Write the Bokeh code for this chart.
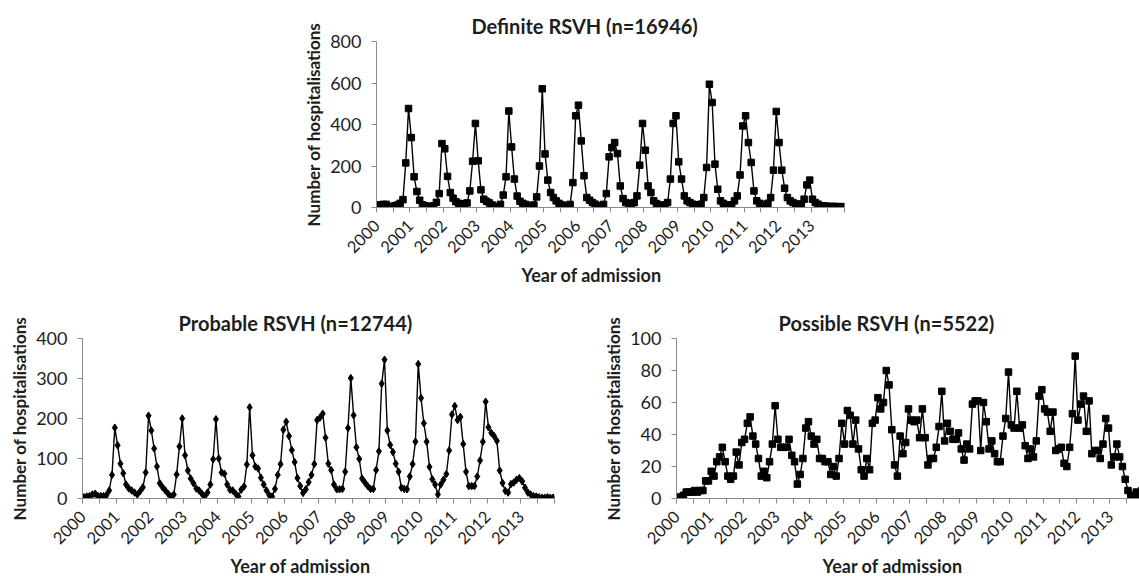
from bokeh.plotting import figure
from bokeh.layouts import column, row
from bokeh.models import Spacer, FixedTicker, Range1d, Title
from bokeh.embed import file_html
from bokeh.resources import INLINE

# ---------------- data ----------------
years = list(range(2000, 2014))
year_labels = [str(y) for y in years]

definite = [
    12, 12, 15, 15, 5, 3, 8, 12, 20, 38, 215, 477,        # 2000
    337, 148, 77, 35, 13, 8, 5, 5, 8, 25, 67, 308,         # 2001
    283, 150, 72, 45, 28, 20, 18, 18, 22, 80, 223, 405,    # 2002
    225, 85, 40, 30, 22, 12, 5, 3, 15, 60, 148, 465,       # 2003
    292, 137, 55, 30, 20, 15, 10, 8, 12, 51, 200, 572,     # 2004
    258, 132, 72, 48, 32, 20, 12, 8, 10, 15, 120, 442,     # 2005
    493, 321, 153, 48, 35, 24, 16, 8, 8, 15, 67, 244,      # 2006
    289, 313, 260, 104, 43, 24, 19, 19, 24, 56, 204, 405,  # 2007
    276, 104, 72, 32, 19, 12, 8, 12, 24, 137, 405, 442,    # 2008
    220, 137, 56, 32, 24, 16, 12, 12, 16, 48, 193, 594,    # 2009
    506, 209, 88, 32, 20, 12, 12, 12, 32, 56, 157, 393,    # 2010
    442, 313, 217, 80, 32, 20, 14, 14, 20, 48, 180, 463,   # 2011
    313, 180, 93, 48, 32, 24, 16, 16, 16, 40, 109, 132,    # 2012
    40, 24, 16, 8, 8, 6, 5, 5, 5, 4, 4, 4,                 # 2013
]

probable = [
    3, 5, 6, 10, 12, 6, 6, 6, 8, 20, 59, 177,              # 2000
    133, 87, 63, 35, 25, 20, 15, 10, 18, 28, 65, 207,      # 2001
    170, 125, 80, 38, 28, 20, 12, 5, 10, 60, 130, 200,     # 2002
    108, 70, 50, 38, 25, 20, 12, 5, 15, 35, 98, 198,       # 2003
    100, 65, 62, 35, 22, 20, 12, 5, 22, 30, 85, 228,       # 2004
    108, 80, 75, 52, 35, 20, 8, 5, 24, 59, 86, 172,        # 2005
    192, 156, 121, 91, 51, 31, 14, 23, 41, 59, 86, 196,    # 2006
    202, 212, 152, 87, 71, 35, 23, 23, 24, 67, 176, 301,   # 2007
    208, 128, 99, 50, 40, 31, 24, 24, 71, 118, 287, 347,   # 2008
    170, 134, 116, 87, 67, 27, 24, 23, 55, 86, 142, 336,   # 2009
    251, 188, 142, 79, 48, 35, 10, 35, 47, 61, 120, 210,   # 2010
    231, 196, 204, 136, 67, 31, 31, 31, 55, 95, 142, 242,  # 2011
    178, 164, 156, 144, 70, 39, 19, 15, 36, 40, 47, 51,    # 2012
    43, 27, 15, 10, 6, 5, 3, 2, 2, 3, 2, 2,                # 2013
]

possible = [
    0, 1, 2, 4, 4, 4, 5, 4, 5, 5, 11, 11,                  # 2000
    17, 14, 23, 26, 32, 23, 14, 12, 14, 29, 21, 35,        # 2001
    37, 47, 51, 39, 34, 25, 14, 17, 13, 23, 34, 58,        # 2002
    37, 32, 32, 32, 37, 27, 23, 9, 15, 25, 44, 48,         # 2003
    39, 34, 37, 25, 25, 23, 23, 15, 20, 14, 25, 47,        # 2004
    34, 55, 52, 34, 49, 31, 18, 14, 25, 18, 47, 49,        # 2005
    63, 56, 60, 80, 71, 43, 21, 14, 39, 28, 35, 56,        # 2006
    49, 48, 49, 38, 56, 38, 21, 25, 25, 32, 45, 67,        # 2007
    36, 47, 42, 37, 37, 41, 31, 24, 34, 31, 59, 61,        # 2008
    61, 30, 60, 48, 31, 36, 28, 23, 23, 39, 50, 79,        # 2009
    46, 44, 67, 44, 46, 33, 25, 31, 26, 36, 64, 68,        # 2010
    56, 54, 42, 54, 30, 31, 32, 22, 20, 32, 53, 89,        # 2011
    49, 59, 64, 42, 61, 28, 30, 30, 25, 34, 50, 44,        # 2012
    21, 26, 34, 26, 20, 12, 5, 2, 2, 4, 2, 5,              # 2013
]

month_index = list(range(len(definite)))
months = [years[0] + (i + 0.5) / 12 for i in month_index]

FONT = "Lato"
TXT = "#1e1e1e"
AXC = "#8a8a8a"


def panel(values, ymax, ystep, title, xlabel_text, marker, msize,
          width, height, bl, br, bt, bb, x_end, title_off, xlab_off):
    p = figure(width=width, height=height, output_backend="svg",
               toolbar_location=None, tools="",
               x_range=Range1d(2000, x_end), y_range=Range1d(0, ymax),
               min_border_left=bl, min_border_right=br,
               min_border_top=bt, min_border_bottom=bb)
    p.outline_line_color = None
    p.grid.visible = False
    p.background_fill_color = "white"
    p.border_fill_color = "white"

    p.line(months, values, line_color="black", line_width=1.4)
    p.scatter(months, values, marker=marker, size=msize,
              fill_color="black", line_color="black")

    # x axis
    xa = p.xaxis[0]
    xa.ticker = FixedTicker(ticks=years,
                            minor_ticks=[y + 0.5 for y in years] + [2014])
    xa.major_label_overrides = {y: lab for y, lab in zip(years, year_labels)}
    xa.major_label_orientation = 0.785398
    xa.major_label_text_font = FONT
    xa.major_label_text_font_size = "16.5px"
    xa.major_label_text_color = TXT
    xa.major_label_standoff = 10
    xa.axis_line_color = AXC
    xa.major_tick_line_color = AXC
    xa.minor_tick_line_color = AXC
    xa.major_tick_out = 5
    xa.major_tick_in = 0
    xa.minor_tick_out = 5
    xa.minor_tick_in = 0

    # y axis
    ya = p.yaxis[0]
    ya.ticker = FixedTicker(ticks=list(range(0, ymax + 1, ystep)))
    ya.minor_tick_line_color = None
    ya.major_label_text_font = FONT
    ya.major_label_text_font_size = "18px"
    ya.major_label_text_color = TXT
    ya.major_label_standoff = 10
    ya.axis_line_color = AXC
    ya.major_tick_line_color = AXC
    ya.major_tick_out = 5
    ya.major_tick_in = 0
    ya.axis_label = "Number of hospitalisations"
    ya.axis_label_text_font = FONT
    ya.axis_label_text_font_size = "17px"
    ya.axis_label_text_font_style = "bold"
    ya.axis_label_text_color = TXT
    ya.axis_label_standoff = 3

    p.title = Title(text=title, align="left", offset=title_off,
                    text_font=FONT, text_font_size="20px",
                    text_font_style="bold", text_color=TXT, standoff=8)
    p.add_layout(Title(text=xlabel_text, align="left", offset=xlab_off,
                       text_font=FONT, text_font_size="18px",
                       text_font_style="bold", text_color=TXT, standoff=0),
                 "below")
    return p


top = panel(definite, 800, 200, "Definite RSVH (n=16946)", "Year of admission",
            "square", 6.5,
            width=592, height=290, bl=88, br=36, bt=41, bb=83,
            x_end=2014, title_off=95, xlab_off=145)

left = panel(probable, 400, 100, "Probable RSVH (n=12744)", "Year of admission",
             "diamond", 7.5,
             width=600, height=286, bl=82, br=46, bt=44, bb=77,
             x_end=2014, title_off=96, xlab_off=148)

right = panel(possible, 100, 20, "Possible RSVH (n=5522)", "Year of admission",
              "square", 6.5,
              width=539, height=286, bl=71, br=0, bt=48, bb=76,
              x_end=2000 + 468 / 33.7, title_off=102, xlab_off=146)

layout = column(row(Spacer(width=288, height=290), top),
                row(left, right), spacing=0)

open("out.html", "w").write(file_html(layout, INLINE))
